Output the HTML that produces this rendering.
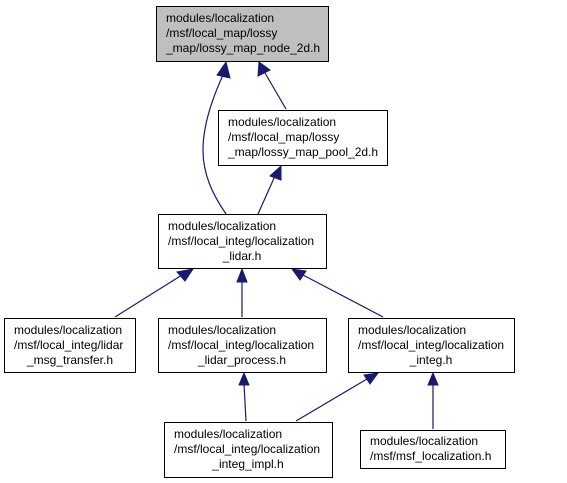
<!DOCTYPE html>
<html><head><style>html,body{margin:0;padding:0;background:#fff}svg{display:block}</style></head>
<body>
<svg width="567" height="483" xmlns="http://www.w3.org/2000/svg" font-family="Liberation Sans, sans-serif" font-size="12" fill="#000">
<g stroke="#191970" stroke-width="1.2" fill="none">
<path d="M223,75 C207,110 203,135 203,150 C203,175 213,195 226,214"/>
<path d="M265,73 L286,109"/>
<path d="M275,176 L258,214"/>
<path d="M182,275 L115,317"/>
<path d="M242,280 L242,317"/>
<path d="M303,275 L383,317"/>
<path d="M244,384 L246,421"/>
<path d="M367,379 L296,421"/>
<path d="M433,384 L433,429"/>
</g>
<g fill="#191970" stroke="#191970">
<polygon points="226,62 217,75 230,78"/>
<polygon points="259,62 258,76 270,70"/>
<polygon points="281,166 270,176 281,180"/>
<polygon points="193,269 177,272 185,281"/>
<polygon points="242,269 237,282 247,282"/>
<polygon points="292,269 300,280 306,271"/>
<polygon points="244,373 239,385 249,385"/>
<polygon points="378,373 364,375 370,384"/>
<polygon points="433,373 428,385 438,385"/>
</g>
<g stroke="#000" stroke-width="1">
<rect x="156.5" y="6.5" width="172" height="55" fill="#bfbfbf"/>
<rect x="218.5" y="110.5" width="169" height="55" fill="#fff"/>
<rect x="158.5" y="214.5" width="168" height="54" fill="#fff"/>
<rect x="4.5" y="318.5" width="131" height="54" fill="#fff"/>
<rect x="158.5" y="318.5" width="168" height="54" fill="#fff"/>
<rect x="348.5" y="318.5" width="166" height="54" fill="#fff"/>
<rect x="164.5" y="422.5" width="168" height="55" fill="#fff"/>
<rect x="360.5" y="430.5" width="145" height="38" fill="#fff"/>
</g>
<text x="166" y="22">modules/localization</text>
<text x="166" y="37">/msf/local_map/lossy</text>
<text x="166" y="52">_map/lossy_map_node_2d.h</text>
<text x="228" y="126">modules/localization</text>
<text x="228" y="141">/msf/local_map/lossy</text>
<text x="228" y="156">_map/lossy_map_pool_2d.h</text>
<text x="168" y="230">modules/localization</text>
<text x="168" y="245">/msf/local_integ/localization</text>
<text x="242" y="260" text-anchor="middle">_lidar.h</text>
<text x="14" y="334">modules/localization</text>
<text x="14" y="349">/msf/local_integ/lidar</text>
<text x="70" y="364" text-anchor="middle">_msg_transfer.h</text>
<text x="168" y="334">modules/localization</text>
<text x="168" y="349">/msf/local_integ/localization</text>
<text x="242" y="364" text-anchor="middle">_lidar_process.h</text>
<text x="358" y="334">modules/localization</text>
<text x="358" y="349">/msf/local_integ/localization</text>
<text x="431" y="364" text-anchor="middle">_integ.h</text>
<text x="174" y="438">modules/localization</text>
<text x="174" y="453">/msf/local_integ/localization</text>
<text x="248" y="468" text-anchor="middle">_integ_impl.h</text>
<text x="370" y="445">modules/localization</text>
<text x="370" y="460">/msf/msf_localization.h</text>
</svg>
</body></html>
